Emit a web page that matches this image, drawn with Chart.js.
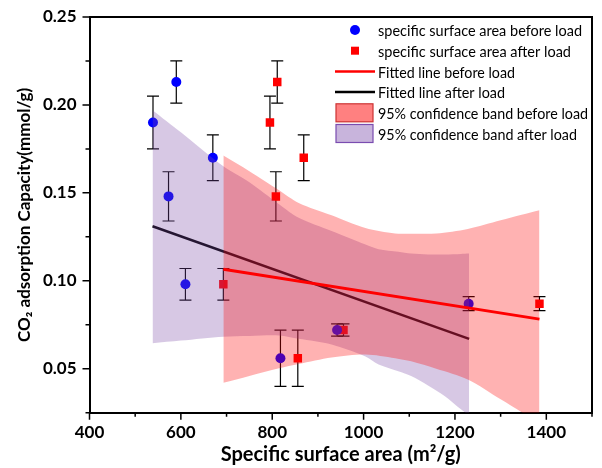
<!DOCTYPE html>
<html>
<head>
<meta charset="utf-8">
<script src="https://cdn.jsdelivr.net/npm/chart.js@4.4.1/dist/chart.umd.min.js"></script>
<style>
html,body{margin:0;padding:0;background:#fff;}
#wrap{width:602px;height:468px;position:relative;}
</style>
</head>
<body>
<div id="wrap"><canvas id="c" width="602" height="468"></canvas></div>
<script>
// ---- data ----
const beforeX   = [539, 590, 573, 670, 610, 818, 942, 1230];
const beforeY   = [0.190, 0.213, 0.148, 0.170, 0.098, 0.056, 0.072, 0.087];
const beforeErr = [0.015, 0.012, 0.014, 0.013, 0.009, 0.016, 0.0035, 0.004];

const afterX   = [795, 811, 808, 869, 693, 856, 956, 1385];
const afterY   = [0.190, 0.213, 0.148, 0.170, 0.098, 0.056, 0.072, 0.087];
const afterErr = [0.015, 0.012, 0.014, 0.013, 0.009, 0.016, 0.0035, 0.004];

const fitBeforeX = [693, 1385];
const fitBeforeY = [0.1066, 0.0782];
const fitAfterX  = [538, 1231];
const fitAfterY  = [0.131, 0.067];

const bandAfterX     = [538, 600, 693, 750, 815, 858, 930, 1004, 1033, 1076, 1104, 1141, 1178, 1213, 1231];
const bandAfterUpper = [0.197, 0.1844, 0.1651, 0.156, 0.1435, 0.1358, 0.1283, 0.1206, 0.118, 0.1165, 0.1155, 0.1150, 0.1150, 0.1153, 0.1155];
const bandAfterLower = [0.0645, 0.066, 0.0682, 0.0686, 0.0689, 0.067, 0.0638, 0.057, 0.0524, 0.0485, 0.0458, 0.0405, 0.0344, 0.0269, 0.0235];

const bandBeforeX     = [693, 750, 815, 858, 930, 1004, 1069, 1104, 1159, 1228, 1300, 1346, 1385];
const bandBeforeUpper = [0.1712, 0.1623, 0.1515, 0.1443, 0.1373, 0.130, 0.1269, 0.1268, 0.1269, 0.1295, 0.1344, 0.1375, 0.1401];
const bandBeforeLower = [0.042, 0.0459, 0.0503, 0.0527, 0.0564, 0.0581, 0.056, 0.0542, 0.050, 0.0439, 0.0326, 0.0252, 0.0184];

const xMajorTicks = [400, 600, 800, 1000, 1200, 1400];
const xMinorTicks = [500, 700, 900, 1100, 1300, 1500];
const yMajorTicks = [0.05, 0.10, 0.15, 0.20, 0.25];
const yMinorTicks = [0.025, 0.075, 0.125, 0.175, 0.225];

const xTitle = 'Specific surface area (m\u00B2/g)';
const yTitle = 'CO\u2082 adsorption Capacity(mmol/g)';
const legendLabels = [
  'specific surface area before load',
  'specific surface area after load',
  'Fitted line before load',
  'Fitted line after load',
  '95% confidence band before load',
  '95% confidence band after load'
];

const pts = (xs, ys) => xs.map((x, i) => ({x: x, y: ys[i]}));
const FONT = 'Lato, "Open Sans", sans-serif';

const errorBars = {
  id: 'errorBars',
  beforeDatasetsDraw(chart) {
    const {ctx, scales: {x, y}, chartArea} = chart;
    ctx.save();
    ctx.beginPath();
    ctx.rect(chartArea.left, chartArea.top, chartArea.width, chartArea.height);
    ctx.clip();
    ctx.strokeStyle = '#000';
    ctx.lineWidth = 1.2;
    const draw = (xs, ys, es) => {
      xs.forEach((xv, i) => {
        const px = x.getPixelForValue(xv);
        const top = y.getPixelForValue(ys[i] + es[i]);
        const bot = y.getPixelForValue(ys[i] - es[i]);
        ctx.beginPath();
        ctx.moveTo(px, top); ctx.lineTo(px, bot);
        ctx.moveTo(px - 6, top); ctx.lineTo(px + 6, top);
        ctx.moveTo(px - 6, bot); ctx.lineTo(px + 6, bot);
        ctx.stroke();
      });
    };
    draw(afterX, afterY, afterErr);
    draw(beforeX, beforeY, beforeErr);
    ctx.restore();
  }
};

const decor = {
  id: 'decor',
  afterDraw(chart) {
    const {ctx, scales: {x, y}, chartArea: a} = chart;
    ctx.save();
    // frame
    ctx.strokeStyle = '#000';
    ctx.lineWidth = 2;
    ctx.beginPath();
    ctx.moveTo(a.left, a.top); ctx.lineTo(a.right, a.top); ctx.lineTo(a.right, a.bottom);
    ctx.stroke();
    // ticks
    ctx.lineWidth = 1.5;
    ctx.beginPath();
    xMajorTicks.forEach(v => { const p = x.getPixelForValue(v); ctx.moveTo(p, a.bottom); ctx.lineTo(p, a.bottom + 7); });
    xMinorTicks.forEach(v => { const p = x.getPixelForValue(v); ctx.moveTo(p, a.bottom); ctx.lineTo(p, a.bottom + 4); });
    yMajorTicks.forEach(v => { const p = y.getPixelForValue(v); ctx.moveTo(a.left, p); ctx.lineTo(a.left - 7, p); });
    yMinorTicks.forEach(v => { const p = y.getPixelForValue(v); ctx.moveTo(a.left, p); ctx.lineTo(a.left - 4, p); });
    ctx.stroke();

    // legend
    const lx0 = 335, lx1 = 375, tx = 378, y0 = 30, dy = 20.7;
    const widths = [204, 193, 137, 127, 210, 199];
    ctx.font = '16px ' + FONT;
    ctx.textBaseline = 'middle';
    ctx.textAlign = 'left';
    legendLabels.forEach((t, i) => {
      const cy = y0 + i * dy;
      if (i === 0) {
        ctx.fillStyle = '#0000ff';
        ctx.beginPath(); ctx.arc(355, cy, 5, 0, Math.PI * 2); ctx.fill();
      } else if (i === 1) {
        ctx.fillStyle = '#ff0000';
        ctx.fillRect(351, cy - 4, 8, 8);
      } else if (i === 2 || i === 3) {
        ctx.strokeStyle = i === 2 ? '#ff0000' : '#000';
        ctx.lineWidth = 2.5;
        ctx.beginPath(); ctx.moveTo(lx0, cy); ctx.lineTo(lx1, cy); ctx.stroke();
      } else {
        ctx.fillStyle = i === 4 ? '#ff8080' : '#c8b4dc';
        ctx.strokeStyle = i === 4 ? '#cc3333' : '#7a4cb0';
        ctx.lineWidth = 1.2;
        ctx.fillRect(lx0 + 1, cy - 9, 37, 18);
        ctx.strokeRect(lx0 + 1, cy - 9, 37, 18);
      }
      ctx.fillStyle = '#000';
      const w = ctx.measureText(t).width;
      ctx.fillText(t, tx, cy + 1, Math.min(w, widths[i]));
    });
    ctx.restore();
  }
};

new Chart(document.getElementById('c'), {
  type: 'scatter',
  data: {
    datasets: [
      { type: 'line', label: 'fitBefore', data: pts(fitBeforeX, fitBeforeY), borderColor: '#ff0000', borderWidth: 3, pointRadius: 0, fill: false, order: 0 },
      { type: 'line', label: 'bandBeforeUpper', data: pts(bandBeforeX, bandBeforeUpper), borderWidth: 0, borderColor: 'rgba(0,0,0,0)', pointRadius: 0, fill: '+1', backgroundColor: 'rgba(255,0,0,0.3)', tension: 0.3, order: 1 },
      { type: 'line', label: 'bandBeforeLower', data: pts(bandBeforeX, bandBeforeLower), borderWidth: 0, borderColor: 'rgba(0,0,0,0)', pointRadius: 0, fill: false, tension: 0.3, order: 2 },
      { type: 'line', label: 'bandAfterUpper', data: pts(bandAfterX, bandAfterUpper), borderWidth: 0, borderColor: 'rgba(0,0,0,0)', pointRadius: 0, fill: '+1', backgroundColor: 'rgba(122,72,165,0.3)', tension: 0.3, order: 3 },
      { type: 'line', label: 'bandAfterLower', data: pts(bandAfterX, bandAfterLower), borderWidth: 0, borderColor: 'rgba(0,0,0,0)', pointRadius: 0, fill: false, tension: 0.3, order: 4 },
      { type: 'line', label: 'fitAfter', data: pts(fitAfterX, fitAfterY), borderColor: '#000', borderWidth: 2.5, pointRadius: 0, fill: false, order: 5 },
      { label: 'before', data: pts(beforeX, beforeY), pointStyle: 'circle', pointRadius: 5, backgroundColor: '#0000ff', borderWidth: 0, order: 6 },
      { label: 'after', data: pts(afterX, afterY), pointStyle: 'rect', pointRadius: 6, backgroundColor: '#ff0000', borderWidth: 0, order: 7 }
    ]
  },
  options: {
    responsive: false,
    animation: false,
    events: [],
    layout: { padding: { top: 17, right: 10, left: 0, bottom: 0 } },
    plugins: { legend: { display: false }, tooltip: { enabled: false } },
    scales: {
      x: {
        type: 'linear', min: 400, max: 1500,
        afterFit(s) { s.height = 55.3; },
        border: { display: true, color: '#000', width: 2 },
        grid: { drawOnChartArea: false, drawTicks: true, tickLength: 7, tickColor: 'rgba(0,0,0,0)' },
        ticks: {
          stepSize: 100, autoSkip: false, maxRotation: 0, color: '#000', padding: 3,
          font: { family: FONT, weight: 'bold', size: 17 },
          callback: v => (xMajorTicks.includes(v) ? String(v) : '')
        },
        title: { display: true, text: xTitle, color: '#000', padding: { top: 0, bottom: 1 },
          font: { family: FONT, weight: 'bold', size: 20 } }
      },
      y: {
        type: 'linear', min: 0.025, max: 0.25,
        afterFit(s) { s.width = 89.5; },
        border: { display: true, color: '#000', width: 2 },
        grid: { drawOnChartArea: false, drawTicks: true, tickLength: 7, tickColor: 'rgba(0,0,0,0)' },
        ticks: {
          stepSize: 0.025, autoSkip: false, color: '#000', padding: 6,
          font: { family: FONT, weight: 'bold', size: 17 },
          callback: v => (yMajorTicks.some(t => Math.abs(t - v) < 1e-6) ? v.toFixed(2) : '')
        },
        title: { display: true, text: yTitle, color: '#000', padding: { top: 14, bottom: 0 },
          font: { family: FONT, weight: 'bold', size: 17 } }
      }
    }
  },
  plugins: [errorBars, decor]
});
</script>
</body>
</html>
